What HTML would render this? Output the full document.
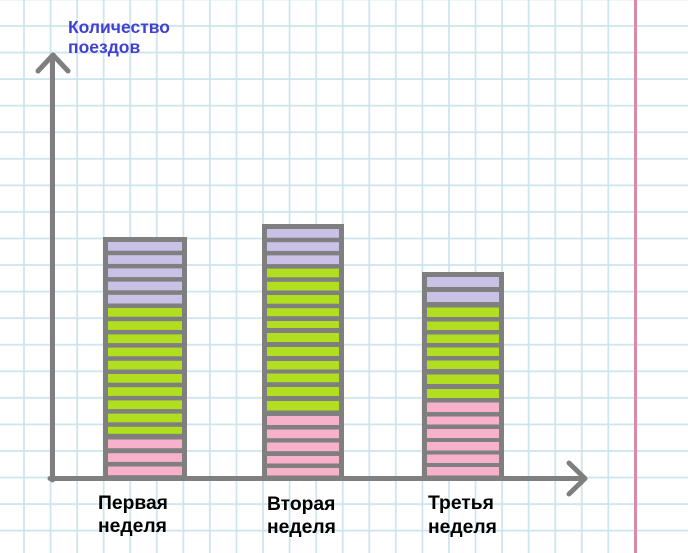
<!DOCTYPE html>
<html>
<head>
<meta charset="utf-8">
<style>
  html,body{margin:0;padding:0;background:#fff;}
  body{width:688px;height:553px;overflow:hidden;}
  svg{display:block;}
</style>
</head>
<body>
<svg width="688" height="553" viewBox="0 0 688 553" xmlns="http://www.w3.org/2000/svg">
  <defs>
    <pattern id="vgrid" patternUnits="userSpaceOnUse" x="10.72" y="0" width="26.56" height="553">
      <rect x="12.43" y="0" width="1.7" height="553" fill="#cbe4ec"/>
    </pattern>
    <pattern id="hgrid" patternUnits="userSpaceOnUse" x="0" y="12.72" width="688" height="26.56">
      <rect x="0" y="12.43" width="688" height="1.7" fill="#cbe4ec"/>
    </pattern>
  </defs>
  <rect x="0" y="0" width="688" height="553" fill="#ffffff"/>
  <rect x="0" y="0" width="622" height="553" fill="url(#vgrid)"/>
  <rect x="0" y="0" width="688" height="553" fill="url(#hgrid)"/>
  <rect x="634" y="0" width="3" height="553" fill="#d98aa9"/>

  <!-- Bar 1 -->
  <rect x="103" y="237" width="84" height="241" fill="#7f7f7f"/>
  <g fill="#c9c2e6">
    <rect x="108" y="242" width="74" height="8.7"/>
    <rect x="108" y="255.2" width="74" height="8.7"/>
    <rect x="108" y="268.4" width="74" height="8.7"/>
    <rect x="108" y="281.6" width="74" height="8.7"/>
    <rect x="108" y="294.8" width="74" height="8.7"/>
  </g>
  <g fill="#b1df1f">
    <rect x="108" y="308" width="74" height="8.7"/>
    <rect x="108" y="321.2" width="74" height="8.7"/>
    <rect x="108" y="334.4" width="74" height="8.7"/>
    <rect x="108" y="347.6" width="74" height="8.7"/>
    <rect x="108" y="360.8" width="74" height="8.7"/>
    <rect x="108" y="374" width="74" height="8.7"/>
    <rect x="108" y="387.2" width="74" height="8.7"/>
    <rect x="108" y="400.4" width="74" height="8.7"/>
    <rect x="108" y="413.6" width="74" height="8.7"/>
    <rect x="108" y="426.8" width="74" height="7"/>
  </g>
  <g fill="#f8b1cb">
    <rect x="108" y="439.5" width="74" height="8.7"/>
    <rect x="108" y="453.2" width="74" height="8.7"/>
    <rect x="108" y="466.5" width="74" height="8.7"/>
  </g>

  <!-- Bar 2 -->
  <rect x="262" y="224" width="82" height="254" fill="#7f7f7f"/>
  <g fill="#c9c2e6">
    <rect x="267" y="229" width="72" height="8.7"/>
    <rect x="267" y="242.2" width="72" height="8.7"/>
    <rect x="267" y="255.4" width="72" height="8.7"/>
  </g>
  <g fill="#b1df1f">
    <rect x="267" y="268.6" width="72" height="8.7"/>
    <rect x="267" y="281.8" width="72" height="8.7"/>
    <rect x="267" y="295" width="72" height="8.7"/>
    <rect x="267" y="308.2" width="72" height="8"/>
    <rect x="267" y="321" width="72" height="7"/>
    <rect x="267" y="333" width="72" height="9"/>
    <rect x="267" y="347" width="72" height="9"/>
    <rect x="267" y="361" width="72" height="8.5"/>
    <rect x="267" y="373.5" width="72" height="8.7"/>
    <rect x="267" y="387" width="72" height="9"/>
    <rect x="267" y="401" width="72" height="9.5"/>
  </g>
  <g fill="#f8b1cb">
    <rect x="267" y="416" width="72" height="9"/>
    <rect x="267" y="429.5" width="72" height="8.7"/>
    <rect x="267" y="442.5" width="72" height="8.7"/>
    <rect x="267" y="456" width="72" height="7.5"/>
    <rect x="267" y="468" width="72" height="7.5"/>
  </g>

  <!-- Bar 3 -->
  <rect x="422" y="272" width="82" height="206" fill="#7f7f7f"/>
  <g fill="#c9c2e6">
    <rect x="427" y="277" width="72" height="10"/>
    <rect x="427" y="292" width="72" height="10"/>
  </g>
  <g fill="#b1df1f">
    <rect x="427" y="307.5" width="72" height="9.5"/>
    <rect x="427" y="321.5" width="72" height="8.5"/>
    <rect x="427" y="334.5" width="72" height="8.5"/>
    <rect x="427" y="347.5" width="72" height="8.5"/>
    <rect x="427" y="360.5" width="72" height="8.5"/>
    <rect x="427" y="374.5" width="72" height="9.5"/>
    <rect x="427" y="389" width="72" height="9"/>
  </g>
  <g fill="#f8b1cb">
    <rect x="427" y="402.5" width="72" height="9.5"/>
    <rect x="427" y="416.5" width="72" height="8"/>
    <rect x="427" y="429" width="72" height="9"/>
    <rect x="427" y="442" width="72" height="8.5"/>
    <rect x="427" y="454.5" width="72" height="8.5"/>
    <rect x="427" y="467" width="72" height="8.5"/>
  </g>

  <!-- axes -->
  <g stroke="#7f7f7f" stroke-width="5" fill="none" stroke-linecap="round" stroke-linejoin="round">
    <line x1="52.5" y1="57" x2="52.5" y2="480"/>
    <polyline points="38,71 53,55 68,71"/>
    <line x1="50" y1="478.5" x2="584" y2="478.5"/>
    <polyline points="569,463 585,478.5 569,494"/>
  </g>

  <!-- title -->
  <g font-family="Liberation Sans, Arial, sans-serif" font-weight="bold" font-size="17.5" fill="#4040d2">
    <text x="68" y="33">Количество</text>
    <text x="68" y="53">поездов</text>
  </g>

  <!-- labels -->
  <g font-family="Liberation Sans, Arial, sans-serif" font-weight="bold" font-size="19.3" fill="#000">
    <text x="98" y="509">Первая</text>
    <text x="98" y="532">неделя</text>
    <text x="267" y="510">Вторая</text>
    <text x="267" y="533">неделя</text>
    <text x="428" y="509">Третья</text>
    <text x="428" y="533">неделя</text>
  </g>
</svg>
</body>
</html>
